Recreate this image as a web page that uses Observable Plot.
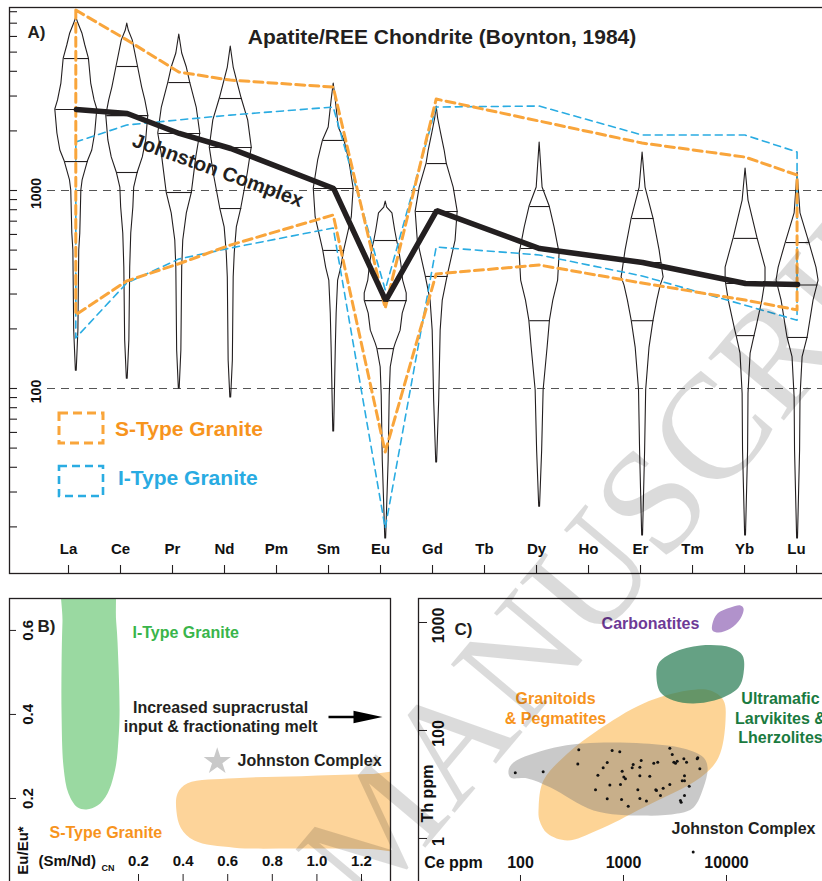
<!DOCTYPE html>
<html><head><meta charset="utf-8">
<script src="https://cdn.jsdelivr.net/npm/d3@7"></script>
<script src="https://cdn.jsdelivr.net/npm/@observablehq/plot@0.6"></script>
<style>
body{margin:0;background:#fff;}
#wrap{position:relative;width:822px;height:881px;overflow:hidden;background:#fff;font-family:"Liberation Sans",Arial,sans-serif;}
.panel{position:absolute;}
#wm{position:absolute;left:263px;top:828px;transform-origin:0 0;transform:rotate(-50deg);font-family:"Liberation Serif","DejaVu Serif",serif;font-size:150px;line-height:1.15;color:rgba(0,0,0,0.14);white-space:nowrap;pointer-events:none;}
</style></head><body>
<div id="wrap">
<div id="pA" class="panel" style="left:0;top:0;width:824px;height:581px"></div>
<div id="pB" class="panel" style="left:0;top:590px;width:392px;height:292px"></div>
<div id="pC" class="panel" style="left:410px;top:590px;width:414px;height:292px"></div>
<svg id="legend" class="panel" style="left:0;top:0" width="822" height="581" font-family="Liberation Sans, Arial, sans-serif" font-weight="bold">
  <rect x="59" y="413" width="44" height="30" fill="none" stroke="#f9a53b" stroke-width="3" stroke-dasharray="9,5"/>
  <rect x="59" y="466" width="44" height="30" fill="none" stroke="#2aace2" stroke-width="2.6" stroke-dasharray="8,5"/>
  <text x="115" y="430" dominant-baseline="middle" font-size="21" fill="#f7941d">S-Type Granite</text>
  <text x="118" y="479" dominant-baseline="middle" font-size="21" fill="#29abe2">I-Type Granite</text>
</svg>
<div id="wm">MANUSCRIPT</div>
</div>
<script>
// ---------------- Panel A data ----------------
const elements = ["La","Ce","Pr","Nd","Pm","Sm","Eu","Gd","Tb","Dy","Ho","Er","Tm","Yb","Lu"];
const measured = ["La","Ce","Pr","Nd","Sm","Eu","Gd","Dy","Er","Yb","Lu"];
const violinAt = [0.15, 1.13, 2.13, 3.12, 5.1, 6.1, 7.08, 9.06, 11.04, 13.02, 14.02];
const johnstonMedian = [2565, 2449, 1941, 1630, 1023, 278, 792, 509, 433, 339, 335];
const sTypeUpper = [8110, 5730, 3945, 3590, 3310, 253, 2880, 2230, 1727, 1467, 1190];
const sTypeLower = [234, 347, 424, 527, 748, 47.5, 377, 418, 339, 278, 248];
const iTypeUpper = [1747, 2130, 2260, 2390, 2625, 313, 2625, 2655, 1895, 1895, 1556];
const iTypeLower = [179, 339, 448, 509, 643, 19.6, 515, 470, 368, 262, 220];
const yMinorTicks = [20,30,40,50,60,70,80,90,100,200,300,400,500,600,700,800,900,1000,2000,3000,4000,5000,6000,7000,8000];
const yLabels = [100, 1000];
const gridValues = [100, 1000];
// violin profiles: [value, relative density (1 = widest)]
const violinProfiles = {
  La: [[7480,0],[6970,0.1],[6210,0.29],[5400,0.43],[4640,0.6],[3470,0.71],[2850,0.87],[2565,1.0],[1941,0.9],[1592,0.76],[1400,0.55],[1124,0.3],[1000,0.24],[607,0.19],[498,0.14],[196,0.1],[123,0.02]],
  Ce: [[6970,0],[6430,0.07],[5730,0.26],[4230,0.51],[3310,0.71],[2850,0.86],[2390,1.0],[1790,0.9],[1470,0.74],[1233,0.5],[1035,0.33],[820,0.29],[607,0.19],[408,0.14],[175,0.1],[112,0.02]],
  Pr: [[6140,0],[4920,0.14],[4180,0.36],[3510,0.52],[2625,0.83],[1941,1.0],[1470,0.81],[977,0.6],[766,0.36],[559,0.19],[408,0.14],[155,0.1],[100,0.02]],
  Nd: [[5340,0],[4180,0.14],[3390,0.36],[2915,0.52],[2260,0.83],[1650,1.0],[1219,0.81],[811,0.5],[651,0.29],[481,0.19],[364,0.14],[138,0.1],[90,0.02]],
  Sm: [[3470,0],[2850,0.1],[2080,0.24],[1790,0.51],[1418,0.74],[1023,0.95],[731,0.86],[498,0.5],[408,0.36],[351,0.21],[239,0.14],[161,0.1],[60.6,0.02]],
  Eu: [[879,0],[820,0.07],[766,0.32],[628,0.45],[559,0.54],[515,0.62],[428,0.74],[351,0.83],[302,1.0],[278,1.0],[239,0.81],[196,0.71],[169,0.48],[159,0.4],[128,0.24],[92,0.19],[43.3,0.14],[17.5,0.02]],
  Gd: [[2655,0],[2310,0.07],[1941,0.21],[1592,0.38],[1368,0.48],[1035,0.81],[783,1.0],[559,0.9],[368,0.52],[351,0.48],[278,0.29],[196,0.19],[87,0.12],[42.3,0.02]],
  Dy: [[1747,0],[1035,0.14],[830,0.48],[651,0.71],[481,0.95],[351,0.88],[278,0.65],[220,0.49],[161,0.38],[98,0.19],[48.6,0.12],[25.3,0.02]],
  Er: [[1556,0],[1035,0.14],[722,0.52],[498,0.81],[394,0.95],[364,1.0],[331,0.86],[278,0.7],[220,0.52],[161,0.33],[98,0.17],[48.6,0.12],[18.1,0.02]],
  Yb: [[1291,0],[889,0.14],[573,0.57],[408,0.95],[351,0.95],[278,0.8],[203,0.52],[185,0.43],[150,0.24],[94,0.14],[48.6,0.12],[18.1,0.02]],
  Lu: [[1233,0],[766,0.14],[546,0.56],[408,0.9],[351,1.0],[278,0.76],[181,0.48],[144,0.24],[90,0.14],[48.6,0.12],[17.5,0.02]]
};
const violinQuartiles = {
  La: [4640, 2565, 1400], Ce: [4230, 2390, 1233], Pr: [3510, 1941, 977], Nd: [2915, 1650, 811],
  Sm: [1790, 1023, 498], Eu: [559, 278, 159], Gd: [1368, 783, 368], Dy: [830, 509, 220],
  Er: [722, 433, 220], Yb: [573, 339, 185], Lu: [546, 333, 181]
};
const titleA = "Apatite/REE Chondrite (Boynton, 1984)";
const johnstonLabelA = {x: 2.87, v: 1262, text: "Johnston Complex"};

// ---------------- Panel B data ----------------
const bXTicks = [0.2, 0.4, 0.6, 0.8, 1.0, 1.2];
const bYTicks = [0.2, 0.4, 0.6];
const bITypeField = [[-0.13,0.75],[0.07,0.75],[0.10,0.62],[0.11,0.52],[0.115,0.40],[0.11,0.34],[0.097,0.274],[0.061,0.212],[0.016,0.183],[-0.033,0.174],[-0.074,0.179],[-0.114,0.212],[-0.136,0.274],[-0.145,0.40],[-0.145,0.52],[-0.141,0.62]];
const bSTypeField = [[0.375,0.212],[0.42,0.236],[0.63,0.248],[0.93,0.253],[1.23,0.258],[1.5,0.258],[1.5,0.08],[1.23,0.08],[0.93,0.081],[0.63,0.083],[0.45,0.10],[0.39,0.13],[0.37,0.17]];
const bJohnston = {smnd: 0.553, eu: 0.288};
const bArrow = {x1: 1.052, x2: 1.294, y: 0.394};
const bLabelsStart = [
  {x: 0.173, y: 0.593, text: "I-Type Granite", fill: "#39b54a"},
  {x: -0.199, y: 0.117, text: "S-Type Granite", fill: "#f7941d"},
  {x: 0.644, y: 0.290, text: "Johnston Complex", fill: "#231f20"}
];
const bLabelsMiddle = [
  {x: 0.568, y: 0.396, text: "Increased supracrustal\ninput & fractionating melt", fill: "#231f20"}
];

// ---------------- Panel C data ----------------
const cXTicks = [100, 1000, 10000];
const cYTicks = [10, 100, 1000];
const cYTickLabels = ["1", "100", "1000"];
const cCarbonatites = [[7310,980],[8180,1211],[10940,1376],[13680,1436],[14630,1349],[13680,1089],[10940,879],[8360,807],[7310,843]];
const cUltramafic = [[2090,310],[2186,417],[3058,527],[5590,612],[10940,587],[14300,495],[14630,337],[13090,250],[8750,198],[4790,178],[3058,190],[2290,225]];
const cGranitoids = [[150,19.4],[167,34.4],[286,61.2],[559,100],[1563,178],[4180,234],[6990,234],[9350,190],[9780,124],[8360,56.2],[5590,36.7],[1563,19.4],[559,11.9],[286,9.58],[183,11.1],[153,14.7]];
const cJohnstonField = [[76.5,42.6],[85.5,50.6],[196,68.1],[409,75.8],[1563,75.8],[3830,68.1],[5980,56.2],[6550,45.4],[5980,29.6],[4790,19.4],[3340,17.0],[1563,16.3],[512,18.2],[196,29.6],[117,35.9],[80,36.7]];
const cCe = [89,166,368,360,776,920,695,635,564,535,695,737,935,971,1007,1045,1242,1214,1484,1442,1442,1800,1378,1442,1671,957,1112,1968,2150,2058,2090,2286,2427,2816,2816,2973,3083,3200,3321,3855,4093,3910,3715,3910,3573,3628,3910,4343,5190,5260,5510,4750];
const cTh = [40.6,41.4,66.3,48.8,65.3,63.5,50.6,45.1,38.5,28.2,23.3,31.2,31.6,42.0,37.0,35.7,48.4,45.1,52.7,45.7,38.0,37.7,28.2,23.4,22.2,23.0,19.9,49.8,50.9,28.2,27.8,25.0,29.2,31.6,68.6,59.9,50.9,49.8,52.0,54.7,50.9,38.0,34.2,34.2,22.5,21.7,25.0,30.5,54.7,55.8,44.2,7.5];
const cLabels = [
  {x: 1828, y: 1000, text: "Carbonatites", fill: "#6d3a96"},
  {x: 219, y: 162, text: "Granitoids\n& Pegmatites", fill: "#f7941d"},
  {x: 33400, y: 132, text: "Ultramafic\nLarvikites &\nLherzolites", fill: "#1a7a40"},
  {x: 14620, y: 12.6, text: "Johnston Complex", fill: "#231f20"}
];

// ---------------- helpers ----------------
const FONT = "'Liberation Sans', Arial, sans-serif";
const INK = "#231f20";
const svgStyle = `background:transparent;max-width:none;overflow:visible;font-family:${FONT};`;
const HALF = 21 / 52; // widest violin half-width, in category units

function densityAt(profile, v) {
  for (let k = 0; k < profile.length - 1; k++) {
    const [va, da] = profile[k], [vb, db] = profile[k + 1];
    if (v <= va && v >= vb) {
      const t = (Math.log(va) - Math.log(v)) / (Math.log(va) - Math.log(vb));
      return da + t * (db - da);
    }
  }
  return 0;
}

const violinRows = measured.flatMap((el, i) => violinProfiles[el].map(([v, d]) => ({el, v, x1: violinAt[i] - d * HALF, x2: violinAt[i] + d * HALF})));
const quartRows = measured.flatMap((el, i) => violinQuartiles[el].map(v => {
  const d = densityAt(violinProfiles[el], v);
  return {el, v, x1: violinAt[i] - d * HALF, x2: violinAt[i] + d * HALF};
}));
const envRows = measured.map((el, i) => ({x: violinAt[i], sLo: sTypeLower[i], sHi: sTypeUpper[i], iLo: iTypeLower[i], iHi: iTypeUpper[i]}));
const jRows = measured.map((el, i) => ({x: violinAt[i], v: johnstonMedian[i]}));

// ---------------- Panel A ----------------
const frameHA = 581 - 7 - 8, frameWA = 824 - 9;
const plotA = Plot.plot({
  width: 824, height: 581, marginLeft: 9, marginTop: 7, marginRight: 0, marginBottom: 8,
  style: svgStyle,
  x: {type: "linear", domain: [-1.1346, 14.538], axis: null},
  y: {type: "log", domain: [11.63, 8401], axis: null},
  marks: [
    Plot.ruleY(gridValues, {y: d => d, stroke: "#555", strokeWidth: 1.2, strokeDasharray: "8,6", insetLeft: 38}),
    Plot.areaX(violinRows, {y: "v", x1: "x1", x2: "x2", z: "el", fill: "none", stroke: INK, strokeWidth: 1.1}),
    Plot.link(quartRows, {x1: "x1", x2: "x2", y1: "v", y2: "v", stroke: INK, strokeWidth: 1.1}),
    Plot.areaY(envRows, {x: "x", y1: "iLo", y2: "iHi", fill: "none", stroke: "#2aace2", strokeWidth: 1.6, strokeDasharray: "7,5"}),
    Plot.areaY(envRows, {x: "x", y1: "sLo", y2: "sHi", fill: "none", stroke: "#f9a53b", strokeWidth: 3, strokeDasharray: "9,5"}),
    Plot.line(jRows, {x: "x", y: "v", stroke: INK, strokeWidth: 5.5, strokeLinejoin: "miter"}),
    Plot.text([johnstonLabelA], {x: "x", y: "v", text: "text", rotate: 20, fontSize: 20, fontWeight: "bold", fill: INK}),
    Plot.frame({stroke: INK, strokeWidth: 1.3}),
    Plot.tickY(yMinorTicks, {y: d => d, stroke: INK, strokeWidth: 1.1, insetRight: frameWA - 8}),
    Plot.tickX(elements, {x: (d, i) => i, stroke: INK, strokeWidth: 1.1, insetTop: frameHA - 8}),
    Plot.text(elements, {x: (d, i) => i, text: d => d, frameAnchor: "bottom", dy: -20, fontSize: 15, fontWeight: "bold", fill: "#111"}),
    Plot.text(yLabels, {y: d => d, text: d => String(d), frameAnchor: "left", textAnchor: "middle", dx: 27, dy: 3, rotate: -90, fontSize: 14, fontWeight: "bold", fill: "#111"}),
    Plot.text([titleA], {text: d => d, frameAnchor: "top", dx: 25, dy: 22, fontSize: 21, fontWeight: "bold", fill: INK}),
    Plot.text(["A)"], {text: d => d, frameAnchor: "top-left", textAnchor: "middle", dx: 27, dy: 18, fontSize: 17, fontWeight: "bold", fill: INK})
  ]
});
document.getElementById("pA").append(plotA);

// ---------------- Panel B ----------------
const frameHB = 292 - 8, frameWB = 392 - 9 - 2;
const arrowHead = {
  draw(ctx, size) {
    const r = Math.sqrt(size / Math.PI);
    const L = r * 2.9, H = r * 0.62;
    ctx.moveTo(0, 0); ctx.lineTo(-L, -H); ctx.lineTo(-L, H); ctx.closePath();
  }
};
const plotB = Plot.plot({
  width: 392, height: 292, marginLeft: 9, marginTop: 8, marginRight: 2, marginBottom: 0,
  style: svgStyle,
  x: {type: "linear", domain: [-0.3785, 1.330], axis: null},
  y: {type: "linear", domain: [0.0, 0.676], axis: null},
  marks: [
    Plot.line(bITypeField, {x: d => d[0], y: d => d[1], fill: "#9ad9a1", stroke: "none", curve: "catmull-rom-closed", clip: true}),
    Plot.line(bSTypeField, {x: d => d[0], y: d => d[1], fill: "#fdd49a", stroke: "none", curve: "catmull-rom-closed", clip: true}),
    Plot.dot([bJohnston], {x: "smnd", y: "eu", symbol: "star", r: 8.5, fill: "#c9c9c9", stroke: "none"}),
    Plot.link([bArrow], {x1: "x1", x2: d => d.x2 - 0.05, y1: "y", y2: "y", stroke: "#000", strokeWidth: 2.6}),
    Plot.dot([bArrow], {x: "x2", y: "y", symbol: arrowHead, r: 10, fill: "#000", stroke: "none"}),
    Plot.text(bLabelsStart, {x: "x", y: "y", text: "text", fill: "fill", textAnchor: "start", fontSize: 16, fontWeight: "bold"}),
    Plot.text(bLabelsMiddle, {x: "x", y: "y", text: "text", fill: "fill", textAnchor: "middle", fontSize: 16, fontWeight: "bold", lineHeight: 1.2}),
    Plot.frame({stroke: INK, strokeWidth: 1.3}),
    Plot.tickY(bYTicks, {y: d => d, stroke: INK, insetRight: frameWB - 7}),
    Plot.tickX(bXTicks, {x: d => d, stroke: INK, insetTop: frameHB - 8}),
    Plot.text(bYTicks, {y: d => d, text: d => d.toFixed(1), frameAnchor: "left", textAnchor: "middle", dx: 18.5, rotate: -90, fontSize: 15, fontWeight: "bold", fill: "#111"}),
    Plot.text(bXTicks, {x: d => d, text: d => d.toFixed(1), frameAnchor: "bottom", dy: -17, fontSize: 15, fontWeight: "bold", fill: "#111"}),
    Plot.text(["Eu/Eu*"], {text: d => d, frameAnchor: "bottom-left", textAnchor: "middle", dx: 18.5, dy: -32, rotate: -90, fontSize: 15, fontWeight: "bold", fill: "#111"}),
    Plot.text(["(Sm/Nd)"], {text: d => d, frameAnchor: "bottom-left", dx: 29, dy: -17, textAnchor: "start", fontSize: 15, fontWeight: "bold", fill: "#111"}),
    Plot.text(["CN"], {text: d => d, frameAnchor: "bottom-left", dx: 92, dy: -12, textAnchor: "start", fontSize: 9, fontWeight: "bold", fill: "#111"}),
    Plot.text(["B)"], {text: d => d, frameAnchor: "top-left", textAnchor: "middle", dx: 37, dy: 21, fontSize: 17, fontWeight: "bold", fill: INK})
  ]
});
document.getElementById("pB").append(plotB);

// ---------------- Panel C ----------------
const frameHC = 292 - 8, frameWC = 414 - 8;
const plotC = Plot.plot({
  width: 414, height: 292, marginLeft: 8, marginTop: 8, marginRight: 0, marginBottom: 0,
  style: svgStyle,
  x: {type: "log", domain: [10.23, 89400], axis: null},
  y: {type: "log", domain: [3.91, 1668], axis: null},
  marks: [
    Plot.line(cGranitoids, {x: d => d[0], y: d => d[1], fill: "#fbb040", fillOpacity: 0.55, stroke: "none", curve: "catmull-rom-closed", clip: true}),
    Plot.line(cJohnstonField, {x: d => d[0], y: d => d[1], fill: "#777", fillOpacity: 0.4, stroke: "none", curve: "catmull-rom-closed", clip: true}),
    Plot.line(cUltramafic, {x: d => d[0], y: d => d[1], fill: "#2a7d55", fillOpacity: 0.72, stroke: "none", curve: "catmull-rom-closed", clip: true}),
    Plot.line(cCarbonatites, {x: d => d[0], y: d => d[1], fill: "#b192cb", stroke: "none", curve: "catmull-rom-closed", clip: true}),
    Plot.dot(cCe.map((c, i) => ({ce: c, th: cTh[i]})), {x: "ce", y: "th", r: 1.5, fill: "#111", stroke: "none"}),
    Plot.text(cLabels, {x: "x", y: "y", text: "text", fill: "fill", fontSize: 16, fontWeight: "bold", lineHeight: 1.2}),
    Plot.frame({stroke: INK, strokeWidth: 1.3}),
    Plot.tickY(cYTicks, {y: d => d, stroke: INK, insetRight: frameWC - 9}),
    Plot.tickX(cXTicks, {x: d => d, stroke: INK, insetTop: frameHC - 7}),
    Plot.text(cYTicks, {y: d => d, text: (d, i) => cYTickLabels[i], frameAnchor: "left", textAnchor: "middle", dx: 20, dy: 3, rotate: -90, fontSize: 16, fontWeight: "bold", fill: "#111"}),
    Plot.text(cXTicks, {x: d => d, text: d => String(d), frameAnchor: "bottom", dy: -15, fontSize: 16, fontWeight: "bold", fill: "#111"}),
    Plot.text(["Th ppm"], {text: d => d, frameAnchor: "bottom-left", textAnchor: "middle", dx: 14, dy: -89, rotate: -90, fontSize: 16, fontWeight: "bold", fill: "#111"}),
    Plot.text(["Ce ppm"], {text: d => d, frameAnchor: "bottom-left", textAnchor: "middle", dx: 35, dy: -15, fontSize: 16, fontWeight: "bold", fill: "#111"}),
    Plot.text(["C)"], {text: d => d, frameAnchor: "top-left", textAnchor: "middle", dx: 45, dy: 24, fontSize: 17, fontWeight: "bold", fill: INK})
  ]
});
document.getElementById("pC").append(plotC);
</script>
</body></html>
